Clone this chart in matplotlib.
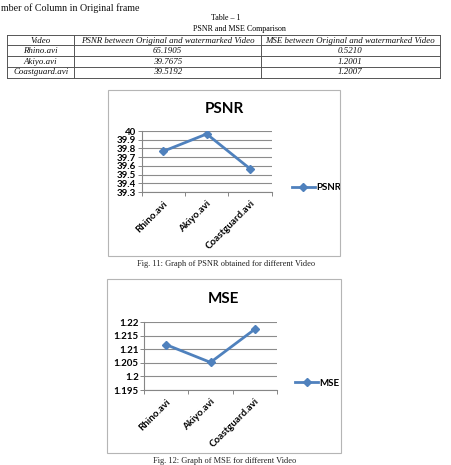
import matplotlib
matplotlib.use('Agg')
import matplotlib.pyplot as plt
from matplotlib.patches import Rectangle
from matplotlib.lines import Line2D

# data
videos = ['Rhino.avi', 'Akiyo.avi', 'Coastguard.avi']
psnr_table = ['65.1905', '39.7675', '39.5192']
mse_table = ['0.5210', '1.2001', '1.2007']
psnr_chart = [39.7675, 39.966, 39.567]
mse_chart = [1.2117, 1.2052, 1.2174]
psnr_ticks = [39.3, 39.4, 39.5, 39.6, 39.7, 39.8, 39.9, 40]
psnr_labels = ['39.3', '39.4', '39.5', '39.6', '39.7', '39.8', '39.9', '40']
mse_ticks = [1.195, 1.2, 1.205, 1.21, 1.215, 1.22]
mse_labels = ['1.195', '1.2', '1.205', '1.21', '1.215', '1.22']

W, H = 451, 465
fig = plt.figure(figsize=(W / 100, H / 100), dpi=100)

def fx(px):
    return px / W

def fy(py):
    return 1 - py / H

serif = 'Liberation Serif'
sans = 'Lato'
blue = '#4F81BD'

# page text
fig.text(fx(1), fy(8), 'mber of Column in Original frame', family=serif, fontsize=7.2,
         va='center', ha='left', color='#111111')
fig.text(fx(226), fy(17.5), 'Table – 1', family=serif, fontsize=5.8, ha='center', va='center')
fig.text(fx(239), fy(29), 'PSNR and MSE Comparison', family=serif, fontsize=5.8, ha='center', va='center')

# table
col_x = [7.5, 74, 261, 439.5]
row_y = [35.5, 45.5, 56, 67, 78]
for y in row_y:
    fig.add_artist(Line2D([fx(col_x[0]), fx(col_x[-1])], [fy(y), fy(y)], color='#555555', lw=0.7))
for x in col_x:
    fig.add_artist(Line2D([fx(x), fx(x)], [fy(row_y[0]), fy(row_y[-1])], color='#555555', lw=0.7))

header = ['Video', 'PSNR between Original and watermarked Video', 'MSE between Original and watermarked Video']
rows = [header] + [[v, p, m] for v, p, m in zip(videos, psnr_table, mse_table)]
for r, cells in enumerate(rows):
    yc = (row_y[r] + row_y[r + 1]) / 2
    for c, txt in enumerate(cells):
        xc = (col_x[c] + col_x[c + 1]) / 2
        fig.text(fx(xc), fy(yc), txt, family=serif, style='italic', fontsize=6.4,
                 ha='center', va='center', color='#111111')

# chart frames
fig.add_artist(Rectangle((fx(108), fy(256)), fx(340) - fx(108), fy(90) - fy(256),
                         fill=False, ec='#b5b5b5', lw=0.8))
fig.add_artist(Rectangle((fx(107), fy(453)), fx(341) - fx(107), fy(279) - fy(453),
                         fill=False, ec='#b5b5b5', lw=0.8))

fig.text(fx(226), fy(263.5), 'Fig. 11: Graph of PSNR obtained for different Video',
         family=serif, fontsize=6, ha='center', va='center', color='#222222')
fig.text(fx(225), fy(461), 'Fig. 12: Graph of MSE for different Video',
         family=serif, fontsize=6, ha='center', va='center', color='#222222')


def chart(rect, values, ticks, labels, title, title_xy, legend_xy):
    ax = fig.add_axes(rect)
    x = list(range(len(videos)))
    ax.plot(x, values, color=blue, lw=2, marker='D', ms=4.5, label=title)
    ax.set_xlim(-0.5, len(videos) - 0.5)
    ax.set_ylim(ticks[0], ticks[-1])
    ax.set_yticks(ticks)
    ax.set_yticklabels(labels, family=sans, fontsize=7, fontweight='bold')
    ax.set_xticks(x)
    ax.set_xticklabels(videos, family=sans, fontsize=7, fontweight='bold',
                       rotation=45, ha='right', rotation_mode='anchor')
    ax.set_xticks([i - 0.5 for i in range(len(videos) + 1)], minor=True)
    ax.tick_params(axis='x', which='major', length=0, pad=5)
    ax.tick_params(axis='x', which='minor', length=3, color='#868686', width=0.7)
    ax.tick_params(axis='y', length=3, color='#868686', width=0.7, pad=1)
    ax.grid(axis='y', color='#8c8c8c', lw=0.8)
    ax.set_axisbelow(True)
    for s in ['top', 'right']:
        ax.spines[s].set_visible(False)
    for s in ['left', 'bottom']:
        ax.spines[s].set_color('#868686')
        ax.spines[s].set_linewidth(0.8)
    fig.text(fx(title_xy[0]), fy(title_xy[1]), title, family=sans, fontweight='bold',
             fontsize=11, ha='center', va='center')
    ax.legend(loc='center left', bbox_to_anchor=(fx(legend_xy[0]), fy(legend_xy[1])),
              bbox_transform=fig.transFigure, frameon=False, handlelength=2.4,
              handletextpad=0.1, borderpad=0, borderaxespad=0,
              prop={'family': sans, 'weight': 'bold', 'size': 7})
    return ax


chart([fx(141.7), fy(192), fx(271.7) - fx(141.7), fy(131) - fy(192)],
      psnr_chart, psnr_ticks, psnr_labels, 'PSNR', (224.3, 109), (291.5, 188))
chart([fx(144.3), fy(390), fx(276.7) - fx(144.3), fy(322.3) - fy(390)],
      mse_chart, mse_ticks, mse_labels, 'MSE', (223.7, 299.3), (295, 383.3))

fig.savefig('out.png', dpi=100)
